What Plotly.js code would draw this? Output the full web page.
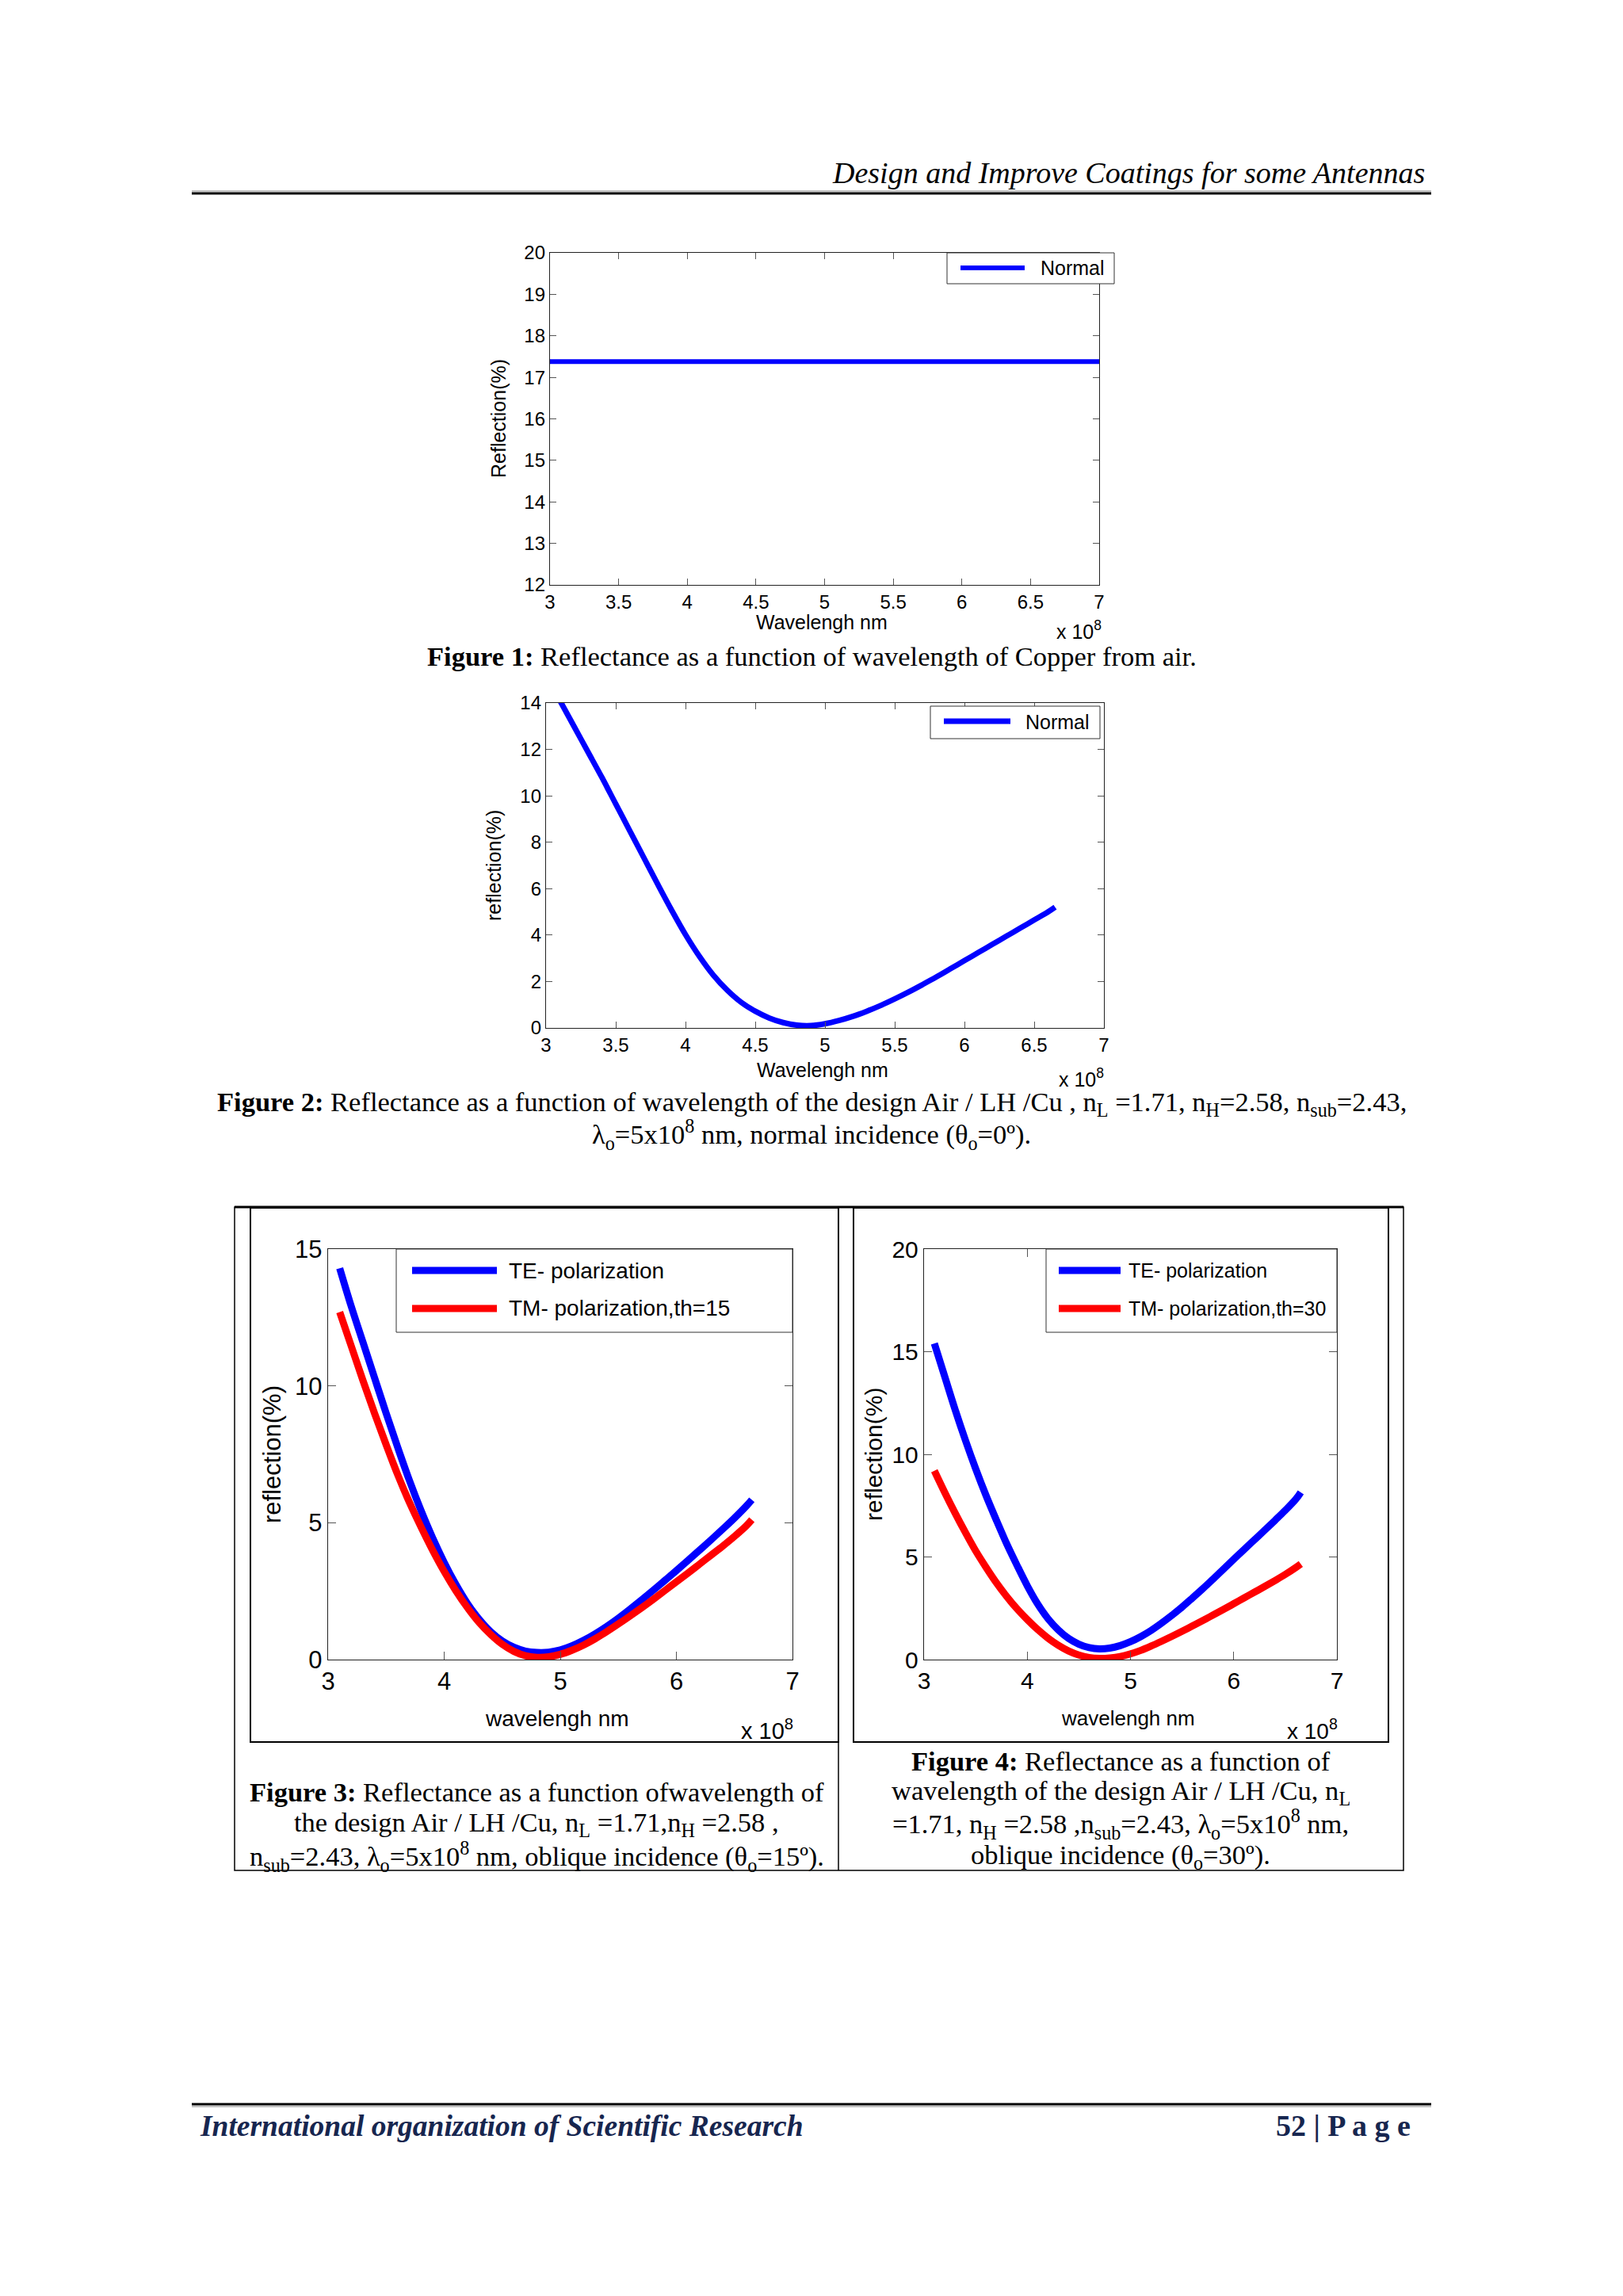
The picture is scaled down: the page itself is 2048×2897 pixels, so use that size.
<!DOCTYPE html>
<html>
<head>
<meta charset="utf-8">
<script src="https://cdn.plot.ly/plotly-3.0.1.min.js"></script>
<style>html,body{margin:0;padding:0;background:#fff;}#chart{width:2048px;height:2897px;}</style>
</head>
<body>
<div id="chart"></div>
<script>
// ---------------- DATA (wavelength in units of 1e8 nm, reflection in %) ----------------
const fig1Wavelength = [3, 7];
const fig1Reflection = [17.38, 17.38];

const wavelength = [3.1,3.2,3.3,3.4,3.5,3.6,3.7,3.8,3.9,4.0,4.1,4.2,4.3,4.4,4.5,4.6,4.7,4.8,4.9,5.0,
                    5.1,5.2,5.3,5.4,5.5,5.6,5.7,5.8,5.9,6.0,6.1,6.2,6.3,6.4,6.5,6.6,6.65];

const fig2Normal = [14.1,13.0,11.9,10.8,9.65,8.5,7.35,6.2,5.08,4.02,3.08,2.27,1.62,1.1,0.72,0.43,0.23,0.12,0.1,0.18,
                    0.32,0.5,0.72,0.97,1.25,1.55,1.87,2.2,2.55,2.9,3.25,3.6,3.95,4.3,4.65,5.0,5.2];

const fig3TE = [14.3,12.9,11.6,10.3,9.0,7.75,6.55,5.45,4.45,3.55,2.75,2.05,1.48,1.02,0.68,0.45,0.31,0.26,0.27,0.35,
                0.5,0.7,0.94,1.21,1.51,1.84,2.18,2.53,2.89,3.25,3.62,4.0,4.38,4.77,5.17,5.6,5.84];
const fig3TM = [12.7,11.45,10.2,9.0,7.85,6.75,5.75,4.85,4.0,3.22,2.52,1.9,1.36,0.92,0.56,0.3,0.14,0.08,0.1,0.19,
                0.34,0.53,0.76,1.02,1.3,1.59,1.89,2.2,2.52,2.84,3.16,3.49,3.82,4.15,4.5,4.88,5.11];

const fig4TE = [15.4,13.8,12.2,10.7,9.3,8.0,6.8,5.65,4.6,3.6,2.72,2.0,1.45,1.03,0.75,0.58,0.52,0.56,0.68,0.87,
                1.12,1.42,1.77,2.15,2.56,3.0,3.45,3.92,4.4,4.88,5.36,5.83,6.3,6.78,7.27,7.8,8.15];
const fig4TM = [9.2,8.15,7.15,6.2,5.3,4.5,3.75,3.08,2.48,1.95,1.47,1.05,0.7,0.42,0.22,0.1,0.06,0.08,0.15,0.28,
                0.45,0.66,0.89,1.13,1.38,1.64,1.9,2.17,2.44,2.72,3.0,3.28,3.56,3.85,4.15,4.48,4.66];

const fig1XTicks = [3,3.5,4,4.5,5,5.5,6,6.5,7];
const fig1XTickText = ['3','3.5','4','4.5','5','5.5','6','6.5','7'];
const fig1YTicks = [12,13,14,15,16,17,18,19,20];
const fig2YTicks = [0,2,4,6,8,10,12,14];
const fig34XTicks = [3,4,5,6,7];
const fig3YTicks = [0,5,10,15];
const fig4YTicks = [0,5,10,15,20];

const legendNormal = 'Normal';
const legendTE = 'TE- polarization';
const legendTM15 = 'TM- polarization,th=15';
const legendTM30 = 'TM- polarization,th=30';

// ---------------- LAYOUT HELPERS ----------------
const W = 2048, H = 2897;
const px = x => x / W;
const py = y => 1 - y / H;
const SANS = 'Liberation Sans, Arial, sans-serif';
const SERIF = 'Liberation Serif, Times New Roman, serif';
const BLUE = '#0000ff', RED = '#ff0000';

function ann(text, x, y, o) {
  o = o || {};
  return {text: text, xref: 'paper', yref: 'paper', x: px(x), y: py(y),
    xanchor: o.xa || 'center', yanchor: o.ya || 'middle', showarrow: false,
    textangle: o.angle || 0,
    font: {family: o.family || SANS, size: o.size || 25, color: o.color || '#000'}};
}
function rect(x0, y0, x1, y1, w, c) {
  return {type: 'rect', xref: 'paper', yref: 'paper', x0: px(x0), x1: px(x1), y0: py(y0), y1: py(y1),
    line: {color: c || '#000', width: w || 1}, fillcolor: 'rgba(255,255,255,1)', layer: 'above'};
}
function rectNoFill(x0, y0, x1, y1, w, c) {
  return {type: 'rect', xref: 'paper', yref: 'paper', x0: px(x0), x1: px(x1), y0: py(y0), y1: py(y1),
    line: {color: c || '#000', width: w || 1}, fillcolor: 'rgba(0,0,0,0)', layer: 'below'};
}
function hline(x0, x1, y, w, c, layer) {
  return {type: 'line', xref: 'paper', yref: 'paper', x0: px(x0), x1: px(x1), y0: py(y), y1: py(y),
    line: {color: c || '#000', width: w || 1}, layer: layer || 'above'};
}
function vline(x, y0, y1, w, c) {
  return {type: 'line', xref: 'paper', yref: 'paper', x0: px(x), x1: px(x), y0: py(y0), y1: py(y1),
    line: {color: c || '#000', width: w || 1}, layer: 'below'};
}
function axis(domainPx, range, tickvals, ticktext, isY, size, ticklen) {
  const d = isY ? [py(domainPx[1]), py(domainPx[0])] : [px(domainPx[0]), px(domainPx[1])];
  const a = {domain: d, range: range, tickmode: 'array', tickvals: tickvals,
    showline: true, linecolor: '#222', linewidth: 1.2, mirror: 'ticks', ticks: 'inside',
    ticklen: ticklen, tickcolor: '#555', tickwidth: 1, showgrid: false, zeroline: false,
    tickfont: {family: SANS, size: size, color: '#000'}, fixedrange: true};
  if (ticktext) a.ticktext = ticktext;
  return a;
}

// ---------------- PANELS ----------------
const P1 = {x: [694, 1387], y: [319, 738]};
const P2 = {x: [689, 1393], y: [887, 1297]};
const P3 = {x: [414, 1000], y: [1576, 2094]};
const P4 = {x: [1166, 1687], y: [1576, 2094]};

const SPL = {shape: 'spline', smoothing: 1};
const traces = [
  {x: fig1Wavelength, y: fig1Reflection, xaxis: 'x', yaxis: 'y', mode: 'lines', name: legendNormal,
   line: {color: BLUE, width: 6}},
  {x: wavelength, y: fig2Normal, xaxis: 'x2', yaxis: 'y2', mode: 'lines', name: legendNormal,
   line: Object.assign({color: BLUE, width: 7}, SPL)},
  {x: wavelength, y: fig3TE, xaxis: 'x3', yaxis: 'y3', mode: 'lines', name: legendTE,
   line: Object.assign({color: BLUE, width: 9}, SPL)},
  {x: wavelength, y: fig3TM, xaxis: 'x3', yaxis: 'y3', mode: 'lines', name: legendTM15,
   line: Object.assign({color: RED, width: 9}, SPL)},
  {x: wavelength, y: fig4TE, xaxis: 'x4', yaxis: 'y4', mode: 'lines', name: legendTE,
   line: Object.assign({color: BLUE, width: 9}, SPL)},
  {x: wavelength, y: fig4TM, xaxis: 'x4', yaxis: 'y4', mode: 'lines', name: legendTM30,
   line: Object.assign({color: RED, width: 9}, SPL)}
];

const CAP = 34.5;
const layout = {
  width: W, height: H, margin: {l: 0, r: 0, t: 0, b: 0}, showlegend: false,
  paper_bgcolor: '#fff', plot_bgcolor: '#fff',
  xaxis:  Object.assign(axis(P1.x, [3, 7], fig1XTicks, fig1XTickText, false, 24, 8), {anchor: 'y'}),
  yaxis:  Object.assign(axis(P1.y, [12, 20], fig1YTicks, null, true, 24, 8), {anchor: 'x'}),
  xaxis2: Object.assign(axis(P2.x, [3, 7], fig1XTicks, fig1XTickText, false, 24, 8), {anchor: 'y2'}),
  yaxis2: Object.assign(axis(P2.y, [0, 14], fig2YTicks, null, true, 24, 8), {anchor: 'x2'}),
  xaxis3: Object.assign(axis(P3.x, [3, 7], fig34XTicks, null, false, 31, 10), {anchor: 'y3'}),
  yaxis3: Object.assign(axis(P3.y, [0, 15], fig3YTicks, null, true, 31, 10), {anchor: 'x3'}),
  xaxis4: Object.assign(axis(P4.x, [3, 7], fig34XTicks, null, false, 30, 10), {anchor: 'y4'}),
  yaxis4: Object.assign(axis(P4.y, [0, 20], fig4YTicks, null, true, 30, 10), {anchor: 'x4'}),
  shapes: [
    // header / footer rules
    hline(242, 1806, 241, 1, '#888'),
    hline(242, 1806, 244, 3, '#000'),
    hline(242, 1806, 2655, 3, '#000'),
    hline(242, 1806, 2658, 1, '#888'),
    // table of figures 3 & 4
    rectNoFill(296, 1523, 1771, 2360, 1.5, '#000'),
    hline(296, 1771, 1523, 3, '#000', 'below'),
    vline(1058, 1523, 2360, 1.5, '#000'),
    rectNoFill(316, 1524, 1058, 2198, 2, '#000'),
    rectNoFill(1077, 1524, 1752, 2198, 2, '#000'),
    // legend boxes and samples
    rect(1195, 319, 1406, 358, 1, '#333'),
    hline(1212, 1293, 338, 6, BLUE),
    rect(1174, 891, 1388, 932, 1, '#333'),
    hline(1191, 1275, 910, 7, BLUE),
    rect(500, 1576, 1000, 1681, 1, '#333'),
    hline(520, 627, 1603, 9, BLUE),
    hline(520, 627, 1651, 9, RED),
    rect(1320, 1576, 1687, 1681, 1, '#333'),
    hline(1336, 1414, 1603, 9, BLUE),
    hline(1336, 1414, 1651, 9, RED)
  ],
  annotations: [
    // header & footer
    ann('<i>Design and Improve Coatings for some Antennas</i>', 1800, 218, {xa: 'right', family: SERIF, size: 38}),
    ann('<b><i>International organization of Scientific Research</i></b>', 250, 2682, {xa: 'left', family: SERIF, size: 37.5, color: '#17264f'}),
    ann('<b>52 | P a g e</b>', 1782, 2682, {xa: 'right', family: SERIF, size: 38, color: '#17264f'}),
    // figure 1
    ann(legendNormal, 1311, 338, {xa: 'left', size: 25}),
    ann('Reflection(%)', 629, 528, {angle: -90, size: 25}),
    ann('Wavelengh nm', 1037, 785, {size: 25}),
    ann('x 10<sup>8</sup>', 1392, 795, {xa: 'right', size: 25}),
    ann('<b>Figure 1:</b> Reflectance as a function of wavelength of Copper from air.', 1024, 828, {family: SERIF, size: CAP}),
    // figure 2
    ann(legendNormal, 1292, 911, {xa: 'left', size: 25}),
    ann('reflection(%)', 623, 1092, {angle: -90, size: 25}),
    ann('Wavelengh nm', 1038, 1350, {size: 25}),
    ann('x 10<sup>8</sup>', 1395, 1360, {xa: 'right', size: 25}),
    ann('<b>Figure 2:</b> Reflectance as a function of wavelength of the design Air / LH /Cu , n<sub>L</sub> =1.71, n<sub>H</sub>=2.58, n<sub>sub</sub>=2.43,', 1024, 1392, {family: SERIF, size: CAP}),
    ann('λ<sub>o</sub>=5x10<sup>8</sup> nm, normal incidence (θ<sub>o</sub>=0º).', 1024, 1432, {family: SERIF, size: CAP}),
    // figure 3
    ann(legendTE, 640, 1603, {xa: 'left', size: 28}),
    ann(legendTM15, 640, 1651, {xa: 'left', size: 28}),
    ann('reflection(%)', 343, 1835, {angle: -90, size: 31}),
    ann('wavelengh nm', 703, 2168, {size: 28}),
    ann('x 10<sup>8</sup>', 1003, 2182, {xa: 'right', size: 29}),
    ann('<b>Figure 3:</b> Reflectance as a function ofwavelength of', 677, 2261, {family: SERIF, size: CAP}),
    ann('the design Air / LH /Cu, n<sub>L</sub> =1.71,n<sub>H</sub> =2.58 ,', 677, 2301, {family: SERIF, size: CAP}),
    ann('n<sub>sub</sub>=2.43, λ<sub>o</sub>=5x10<sup>8</sup> nm, oblique incidence (θ<sub>o</sub>=15º).', 677, 2342, {family: SERIF, size: CAP}),
    // figure 4
    ann(legendTE, 1422, 1603, {xa: 'left', size: 25}),
    ann(legendTM30, 1422, 1651, {xa: 'left', size: 25}),
    ann('reflection(%)', 1102, 1835, {angle: -90, size: 30}),
    ann('wavelengh nm', 1423, 2168, {size: 26}),
    ann('x 10<sup>8</sup>', 1690, 2182, {xa: 'right', size: 28}),
    ann('<b>Figure 4:</b> Reflectance as a function of', 1414, 2222, {family: SERIF, size: CAP}),
    ann('wavelength of the design Air / LH /Cu, n<sub>L</sub>', 1414, 2261, {family: SERIF, size: CAP}),
    ann('=1.71, n<sub>H</sub> =2.58 ,n<sub>sub</sub>=2.43, λ<sub>o</sub>=5x10<sup>8</sup> nm,', 1414, 2301, {family: SERIF, size: CAP}),
    ann('oblique incidence (θ<sub>o</sub>=30º).', 1414, 2342, {family: SERIF, size: CAP})
  ]
};

Plotly.newPlot('chart', traces, layout, {staticPlot: true, displayModeBar: false});
</script>
</body>
</html>
